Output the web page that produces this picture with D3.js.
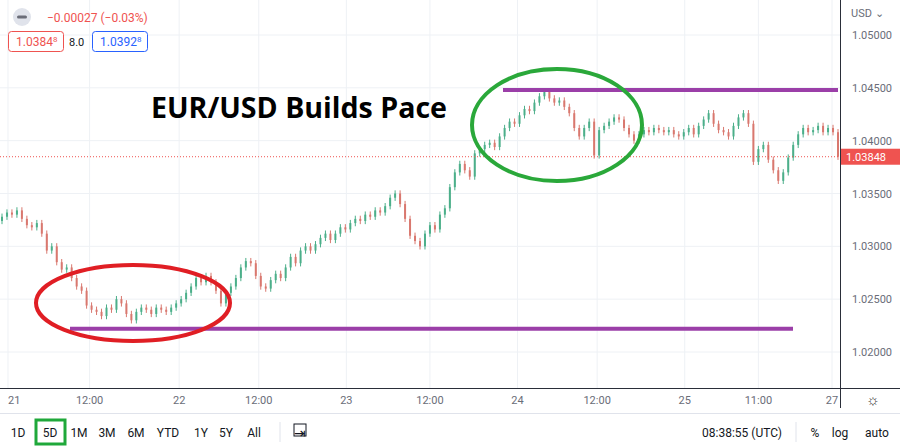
<!DOCTYPE html><html><head><meta charset="utf-8">
<script src="https://cdn.jsdelivr.net/npm/d3@7"></script>
<style>body{margin:0;background:#fff;font-family:Roboto,"Liberation Sans",sans-serif}</style></head><body>
<svg id="c" width="900" height="447"></svg>
<script>
const closes=[1.0328,1.0332,1.0330,1.0334,1.0326,1.0320,1.0318,1.0322,1.0312,
1.0296,1.0300,1.0285,1.0278,1.0280,1.0270,1.0262,1.0258,
1.0244,1.0240,1.0238,1.0234,1.0242,1.0240,1.0250,1.0246,1.0236,
1.0230,1.0238,1.0242,1.0240,1.0236,1.0242,1.0240,1.0238,1.0242,
1.0246,1.0250,1.0256,1.0262,1.0270,1.0266,1.0272,1.0266,1.0258,
1.0246,1.0256,1.0262,1.0270,1.0280,1.0286,1.0284,1.0272,1.0262,
1.0260,1.0268,1.0274,1.0270,1.0280,1.0290,1.0284,1.0296,1.0300,
1.0296,1.0302,1.0308,1.0312,1.0306,1.0312,1.0318,1.0316,1.0322,
1.0326,1.0324,1.0330,1.0328,1.0334,1.0332,1.0338,1.0346,1.0350,
1.0340,1.0326,1.0310,1.0305,1.0300,1.0312,1.0320,1.0316,1.0330,
1.0336,1.0356,1.0370,1.0378,1.0372,1.0366,1.0388,1.0392,1.0396,
1.0398,1.0394,1.0404,1.0412,1.0418,1.0416,1.0424,1.0430,1.0428,
1.0436,1.0442,1.0446,1.0440,1.0436,1.0438,1.0432,1.0426,1.0412,
1.0404,1.0412,1.0418,1.0386,1.0410,1.0414,1.0418,1.0422,1.0420,
1.0412,1.0406,1.0400,1.0406,1.0410,1.0408,1.0412,1.0410,1.0408,
1.0410,1.0406,1.0404,1.0408,1.0412,1.0406,1.0414,1.0420,1.0426,
1.0416,1.0410,1.0408,1.0404,1.0414,1.0422,1.0426,1.0416,1.0380,
1.0392,1.0396,1.0382,1.0372,1.0362,1.0370,1.0384,1.0396,1.0406,
1.0412,1.0408,1.0410,1.0414,1.0408,1.0412,1.0408,1.03848];
const firstOpen=1.0324;
const priceTicks=[1.05,1.045,1.04,1.035,1.03,1.025,1.02];
const timeLabels=["21","12:00","22","12:00","23","12:00","24","12:00","25","11:00","27"];
const timeIdx=[1.2,17.6,35.6,51.6,69.2,86,103.6,119.6,137.2,152,166.8];
const resistance=1.0448, support=1.0222;
const ranges=["1D","5D","1M","3M","6M","YTD","1Y","5Y","All"];
const wick=0.0003;

const svg=d3.select("#c");
const W=840,H=388;
const y=d3.scaleLinear().domain([1.02,1.05]).range([352,35]);
const x=d3.scaleLinear().domain([0,closes.length-1]).range([2,838]);
const g=svg.append("g");
g.selectAll(".hg").data(priceTicks).join("line").attr("x1",0).attr("x2",W).attr("y1",d=>y(d)).attr("y2",d=>y(d)).attr("stroke","#eef1f5");
g.selectAll(".vg").data(timeIdx).join("line").attr("x1",d=>x(d)).attr("x2",d=>x(d)).attr("y1",0).attr("y2",H).attr("stroke","#eef1f5");
const data=closes.map((c,i)=>{const o=i?closes[i-1]:firstOpen;return {i,o,c,h:Math.max(o,c)+wick,l:Math.min(o,c)-wick};});
const cg=g.append("g");
cg.selectAll("line").data(data).join("line").attr("x1",d=>x(d.i)).attr("x2",d=>x(d.i)).attr("y1",d=>y(d.h)).attr("y2",d=>y(d.l)).attr("stroke",d=>d.c>=d.o?"#4caf8a":"#d9786f").attr("stroke-width",1);
cg.selectAll("rect").data(data).join("rect").attr("x",d=>x(d.i)-1).attr("width",2).attr("y",d=>y(Math.max(d.o,d.c))).attr("height",d=>Math.max(1,Math.abs(y(d.o)-y(d.c)))).attr("fill",d=>d.c>=d.o?"#4caf8a":"#d9786f");
const last=closes[closes.length-1];
g.append("line").attr("x1",0).attr("x2",W).attr("y1",y(last)).attr("y2",y(last)).attr("stroke","#ef5350").attr("stroke-dasharray","1,2");
g.append("line").attr("x1",503).attr("x2",838).attr("y1",y(resistance)).attr("y2",y(resistance)).attr("stroke","#9b3fa8").attr("stroke-width",4);
g.append("line").attr("x1",70).attr("x2",793).attr("y1",y(support)).attr("y2",y(support)).attr("stroke","#9b3fa8").attr("stroke-width",4);
g.append("ellipse").attr("cx",557).attr("cy",125).attr("rx",85).attr("ry",56).attr("fill","none").attr("stroke","#2aa83a").attr("stroke-width",4);
g.append("ellipse").attr("cx",133).attr("cy",303).attr("rx",97).attr("ry",38).attr("fill","none").attr("stroke","#e01e24").attr("stroke-width",4);
g.append("text").attr("x",151).attr("y",118).attr("font-family","'Open Sans',sans-serif").attr("font-weight","bold").attr("font-size",28).attr("textLength",296).attr("lengthAdjust","spacingAndGlyphs").attr("fill","#000").text("EUR/USD Builds Pace");
svg.append("line").attr("x1",W+0.5).attr("x2",W+0.5).attr("y1",0).attr("y2",408).attr("stroke","#2a2e39");
svg.selectAll(".pt").data(priceTicks).join("text").attr("x",852).attr("y",d=>y(d)+4).attr("font-size",11).attr("fill","#6a6d78").text(d=>d.toFixed(5));
svg.append("text").attr("x",851).attr("y",17).attr("font-size",11).attr("fill","#6a6d78").text("USD ⌄");
svg.append("rect").attr("x",841).attr("y",y(last)-8).attr("width",59).attr("height",16).attr("fill","#ef5350");
svg.append("text").attr("x",846).attr("y",y(last)+4).attr("font-size",11).attr("fill","#fff").text(last.toFixed(5));
svg.append("line").attr("x1",0).attr("x2",900).attr("y1",H+0.5).attr("y2",H+0.5).attr("stroke","#2a2e39");
svg.append("line").attr("x1",0).attr("x2",900).attr("y1",413.5).attr("y2",413.5).attr("stroke","#e0e3eb");
svg.selectAll(".tl").data(timeLabels).join("text").attr("x",(d,i)=>x(timeIdx[i])).attr("y",404).attr("text-anchor",(d,i)=>i===0?"start":"middle").attr("font-size",11).attr("fill","#6a6d78").text(d=>d);
svg.append("text").attr("x",873).attr("y",405).attr("text-anchor","middle").attr("font-size",15).attr("fill","#333").text("☼");
const rx=[18,50,79,107,136,168,201,226,254];
svg.append("rect").attr("x",36).attr("y",420).attr("width",29).attr("height",24).attr("fill","none").attr("stroke","#1fa83a").attr("stroke-width",3);
svg.selectAll(".rg").data(ranges).join("text").attr("x",(d,i)=>rx[i]).attr("y",437).attr("text-anchor","middle").attr("font-size",12).attr("fill","#131722").text(d=>d);
svg.append("line").attr("x1",280).attr("x2",280).attr("y1",422).attr("y2",442).attr("stroke","#e0e3eb");
svg.append("text").attr("x",300).attr("y",438).attr("text-anchor","middle").attr("font-size",14).attr("fill","#131722").text("⇥");
svg.append("rect").attr("x",294).attr("y",424).attr("width",12).attr("height",12).attr("fill","none").attr("stroke","#131722");
svg.append("text").attr("x",782).attr("y",437).attr("text-anchor","end").attr("font-size",12).attr("fill","#131722").text("08:38:55 (UTC)");
svg.append("line").attr("x1",796).attr("x2",796).attr("y1",422).attr("y2",442).attr("stroke","#e0e3eb");
[["%",815],["log",840],["auto",877]].forEach(([t,px])=>svg.append("text").attr("x",px).attr("y",437).attr("text-anchor","middle").attr("font-size",12).attr("fill","#131722").text(t));
svg.append("circle").attr("cx",22).attr("cy",17).attr("r",9).attr("fill","#e0e3eb");
svg.append("rect").attr("x",17).attr("y",15.5).attr("width",10).attr("height",3).attr("rx",1.5).attr("fill","#6a6d78");
svg.append("text").attr("x",47).attr("y",22).attr("font-size",12).attr("fill","#ef5350").text("−0.00027 (−0.03%)");
svg.append("rect").attr("x",8.5).attr("y",31.5).attr("width",55).attr("height",20).attr("rx",3).attr("fill","#fff").attr("stroke","#ef5350");
svg.append("text").attr("x",16).attr("y",46).attr("font-size",12).attr("fill","#ef5350").html('1.0384<tspan font-size="8" dy="-4">8</tspan>');
svg.append("text").attr("x",69).attr("y",46).attr("font-size",11).attr("fill","#131722").text("8.0");
svg.append("rect").attr("x",92.5).attr("y",31.5).attr("width",55).attr("height",20).attr("rx",3).attr("fill","#fff").attr("stroke","#2962ff");
svg.append("text").attr("x",100).attr("y",46).attr("font-size",12).attr("fill","#2962ff").html('1.0392<tspan font-size="8" dy="-4">8</tspan>');
</script></body></html>
